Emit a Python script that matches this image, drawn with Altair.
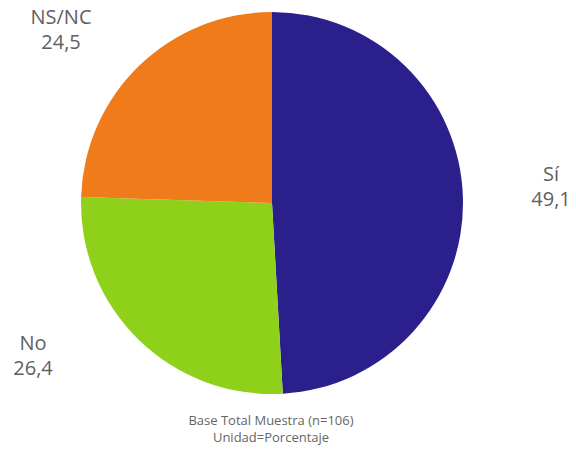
import altair as alt
import pandas as pd

categories = ["Sí", "No", "NS/NC"]
values = [49.1, 26.4, 24.5]
colors = ["#2b1f8c", "#8fd11a", "#f07b1a"]
label_lines = [["Sí", "49,1"], ["No", "26,4"], ["NS/NC", "24,5"]]
footer = ["Base Total Muestra (n=106)", "Unidad=Porcentaje"]

df = pd.DataFrame({"cat": categories, "val": values, "order": [0, 1, 2]})

pie = alt.Chart(df).mark_arc(outerRadius=191, stroke=None).encode(
    theta=alt.Theta("val:Q", stack=True),
    order=alt.Order("order:Q"),
    color=alt.Color("cat:N", scale=alt.Scale(domain=categories, range=colors), legend=None),
    x=alt.value(272),
    y=alt.value(203),
)

font = "Open Sans"
gray = "#5f5f5f"

def label(i, x, y):
    return alt.Chart(pd.DataFrame({"t": [label_lines[i]]})).mark_text(
        font=font, fontSize=20, color=gray, align="center", baseline="middle", lineHeight=25
    ).encode(text="t", x=alt.value(x), y=alt.value(y))

lab_si = label(0, 551, 175)
lab_no = label(1, 33, 344)
lab_ns = label(2, 61, 18)

def foot_line(i, y):
    return alt.Chart(pd.DataFrame({"t": [footer[i]]})).mark_text(
        font=font, fontSize=13, color="#666666", align="center", baseline="middle"
    ).encode(text="t", x=alt.value(271), y=alt.value(y))

foot1 = foot_line(0, 421)
foot2 = foot_line(1, 438)

chart = alt.layer(pie, lab_si, lab_no, lab_ns, foot1, foot2).properties(
    width=576, height=454,
    autosize=alt.AutoSizeParams(type="none"),
    padding=0,
).configure_view(stroke=None)

chart.save("out.html", embed_options={"renderer": "svg", "actions": False})
